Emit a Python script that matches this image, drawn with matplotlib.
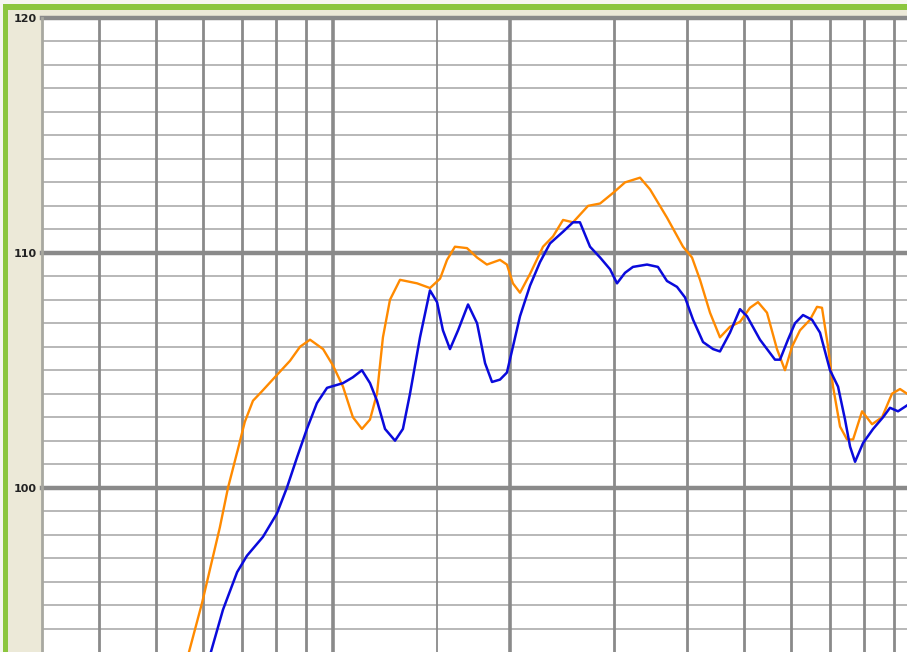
import numpy as np
import matplotlib
matplotlib.use("Agg")
import matplotlib.pyplot as plt
from matplotlib.patches import Rectangle

# frequency (Hz) / SPL (dB) read points for the two measurements
orange_freq = [56.9, 59.9, 64.2, 66.3, 68.7, 70.8, 73.1, 75.7, 80.3, 84.5,
               87.9, 91.4, 96.2, 100.0, 104.0, 108.1, 112.0, 115.6, 118.8, 121.6,
               125.0, 130.0, 139.0, 146.2, 152.1, 156.3, 161.2, 169.0, 175.8, 182.7,
               192.3, 197.6, 202.3, 208.0, 216.3, 227.6, 236.7, 246.2, 256.0, 271.5,
               284.6, 299.4, 313.8, 332.8, 346.1, 369.8, 393.8, 407.9, 420.9, 437.7,
               455.1, 473.3, 492.2, 511.9, 528.2, 547.1, 568.9, 587.0, 603.4, 622.6,
               647.5, 665.5, 678.6, 694.9, 708.6, 728.3, 748.5, 766.4, 793.9, 825.6,
               858.6, 892.6, 921.0, 946.6]
orange_db = [93.0, 95.1, 98.3, 100.0, 101.5, 102.8, 103.7, 104.1, 104.8, 105.4,
             106.0, 106.3, 105.9, 105.2, 104.3, 103.0, 102.5, 102.9, 104.0, 106.4,
             108.0, 108.85, 108.7, 108.5, 108.9, 109.7, 110.26, 110.2, 109.8, 109.5,
             109.7, 109.5, 108.7, 108.3, 109.1, 110.26, 110.7, 111.4, 111.3, 112.0,
             112.1, 112.55, 113.0, 113.2, 112.7, 111.5, 110.26, 109.8, 108.85, 107.45,
             106.4, 106.85, 107.06, 107.66, 107.9, 107.45, 105.9, 105.0, 106.0, 106.7,
             107.15, 107.7, 107.66, 106.0, 104.3, 102.6, 102.05, 102.05, 103.25, 102.7,
             103.0, 104.0, 104.2, 104.0]

blue_freq = [62.0, 65.0, 68.7, 71.4, 76.0, 80.3, 83.5, 86.9, 90.3, 93.9,
             97.7, 104.0, 108.1, 112.0, 115.6, 118.8, 122.6, 127.5, 131.5, 135.2,
             140.6, 146.2, 150.3, 153.8, 158.1, 163.2, 169.7, 175.8, 181.4, 186.4,
             192.3, 197.6, 202.3, 208.0, 216.3, 224.9, 233.9, 246.2, 256.0, 263.0,
             273.6, 284.6, 295.9, 304.1, 313.8, 323.7, 342.0, 356.9, 369.8, 384.6,
             396.9, 409.6, 425.9, 443.0, 455.1, 473.3, 492.2, 505.9, 532.3, 564.5,
             575.7, 593.9, 610.5, 630.0, 652.6, 673.3, 700.3, 722.6, 742.6, 757.4,
             772.4, 797.0, 828.9, 862.0, 885.6, 913.9, 946.6]
blue_db = [93.0, 94.8, 96.4, 97.1, 97.9, 98.9, 100.0, 101.3, 102.5, 103.6,
           104.25, 104.45, 104.7, 105.0, 104.45, 103.7, 102.5, 102.0, 102.5, 104.0,
           106.4, 108.4, 107.9, 106.7, 105.9, 106.7, 107.8, 107.0, 105.3, 104.5,
           104.6, 104.9, 106.0, 107.3, 108.6, 109.6, 110.4, 110.9, 111.3, 111.3,
           110.26, 109.8, 109.3, 108.7, 109.15, 109.4, 109.5, 109.4, 108.8, 108.55,
           108.1, 107.15, 106.2, 105.9, 105.8, 106.6, 107.6, 107.3, 106.3, 105.45,
           105.45, 106.3, 107.0, 107.35, 107.15, 106.6, 105.0, 104.3, 102.9, 101.75,
           101.1, 101.9, 102.5, 103.0, 103.4, 103.25, 103.5]

grid_freqs = [40, 50, 60, 70, 80, 90, 100, 150, 200, 300, 400, 500, 600, 700, 800, 900]
y_labels = [100, 110, 120]

W, H = 907, 652
fig = plt.figure(figsize=(W / 100, H / 100), dpi=100)
fig.patch.set_facecolor("#ece9d8")

# window frame: white edge, green band along top and left
fig.add_artist(Rectangle((0, 1 - 4 / H), 1, 4 / H, transform=fig.transFigure,
                         facecolor="#f6f6f0", edgecolor="none"))
fig.add_artist(Rectangle((0, 0), 3 / W, 1, transform=fig.transFigure,
                         facecolor="#f6f6f0", edgecolor="none"))
fig.add_artist(Rectangle((3 / W, 1 - 10 / H), 1, 6 / H, transform=fig.transFigure,
                         facecolor="#8cc63e", edgecolor="none"))
fig.add_artist(Rectangle((3 / W, 0), 5 / W, 1 - 4 / H, transform=fig.transFigure,
                         facecolor="#8cc63e", edgecolor="none"))

ax = fig.add_axes([42 / W, 0, (W - 42) / W, (H - 18) / H])
ax.set_facecolor("white")
ax.set_xscale("log")
ax.set_xlim(32.0, 946.6)
ax.set_ylim(93.0, 120.0)

for db in range(94, 120):
    if db % 10 == 0:
        continue
    ax.axhline(db, color="#a4a4a4", lw=1.1, zorder=1)
for db in y_labels:
    ax.axhline(db, color="#8a8a8a", lw=3.2, zorder=1.5, clip_on=False)
for f in grid_freqs:
    lw = 2.6 if f in (100, 200) else (1.3 if f == 150 else 2.0)
    ax.axvline(f, color="#8a8a8a", lw=lw, zorder=1.5)

ax.plot(orange_freq, orange_db, color="#ff8a00", lw=1.7, zorder=3,
        solid_joinstyle="round")
ax.plot(blue_freq, blue_db, color="#0a0adc", lw=1.8, zorder=4,
        solid_joinstyle="round")

ax.set_xticks([])
ax.minorticks_off()
ax.set_yticks(y_labels)
ax.set_yticklabels([str(v) for v in y_labels], fontsize=8, fontweight="bold",
                   color="#222222", family="DejaVu Sans")
ax.tick_params(axis="y", length=0, pad=4)
for side in ("top", "right", "bottom"):
    ax.spines[side].set_visible(False)
ax.spines["left"].set_color("#a8a8a0")
ax.spines["left"].set_linewidth(2)

fig.savefig("out.png", dpi=100, facecolor=fig.get_facecolor())
